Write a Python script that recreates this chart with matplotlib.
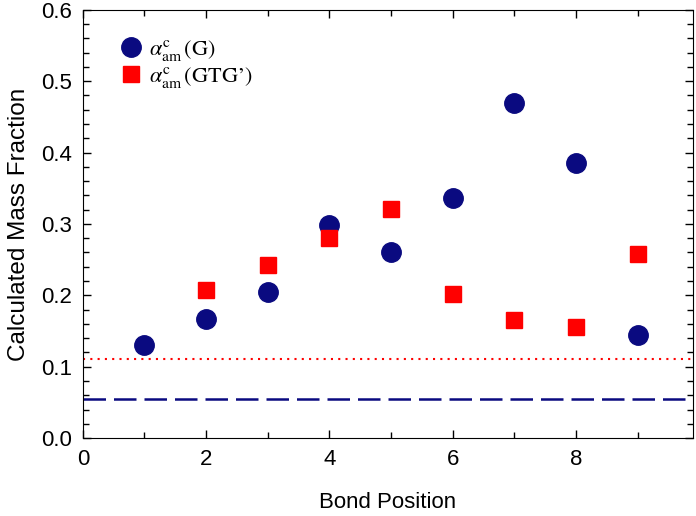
import matplotlib
matplotlib.use("Agg")
import matplotlib.pyplot as plt
from matplotlib.ticker import MultipleLocator

plt.rcParams['font.family'] = ['Liberation Sans', 'DejaVu Sans']
plt.rcParams['mathtext.fontset'] = 'stix'

# data
pos_g = [1, 2, 3, 4, 5, 6, 7, 8, 9]
frac_g = [0.131, 0.167, 0.205, 0.298, 0.261, 0.337, 0.470, 0.385, 0.144]
pos_gtg = [2, 3, 4, 5, 6, 7, 8, 9]
frac_gtg = [0.208, 0.243, 0.281, 0.321, 0.202, 0.165, 0.156, 0.258]
ref_gtg = 0.111
ref_g = 0.055

navy = '#0a0a80'
red = '#ff0000'

fig = plt.figure(figsize=(6.96, 5.16), dpi=100)
ax = fig.add_axes([0.119, 0.151, 0.877, 0.830])

ax.plot(pos_g, frac_g, 'o', color=navy, markersize=14, linestyle='none',
        label=r'$\alpha_{\rm am}^{\rm c}\,\left(\mathrm{G}\right)$')
ax.plot(pos_gtg, frac_gtg, 's', color=red, markersize=11.5, linestyle='none',
        label="$\\alpha_{\\rm am}^{\\rm c}\\,\\left(\\mathrm{GTG\u2019}\\right)$")
ax.axhline(ref_gtg, color=red, linestyle=(0, (1, 2.5)), linewidth=1.5)
ax.axhline(ref_g, color=navy, linestyle=(0, (9, 3.2)), linewidth=1.8)

ax.set_xlim(0, 9.9)
ax.set_ylim(0, 0.6)
ax.xaxis.set_major_locator(MultipleLocator(2))
ax.xaxis.set_minor_locator(MultipleLocator(1))
ax.yaxis.set_major_locator(MultipleLocator(0.1))
ax.yaxis.set_minor_locator(MultipleLocator(0.02))
ax.yaxis.set_major_formatter(plt.FormatStrFormatter('%.1f'))
ax.tick_params(which='both', direction='in', top=True, right=True, labelsize=16)
ax.tick_params(which='major', length=6, width=1, pad=8)
ax.tick_params(which='minor', length=4, width=1)

ax.set_xlabel('Bond Position', fontsize=16, labelpad=16)
ax.set_ylabel('Calculated Mass Fraction', fontsize=17.5, labelpad=8)

ax.legend(loc='upper left', frameon=False, fontsize=16, handletextpad=0.0,
          borderaxespad=0.3, bbox_to_anchor=(0.025, 0.97), labelspacing=0.08,
          handlelength=1.6)

fig.savefig('out.png', dpi=100)
